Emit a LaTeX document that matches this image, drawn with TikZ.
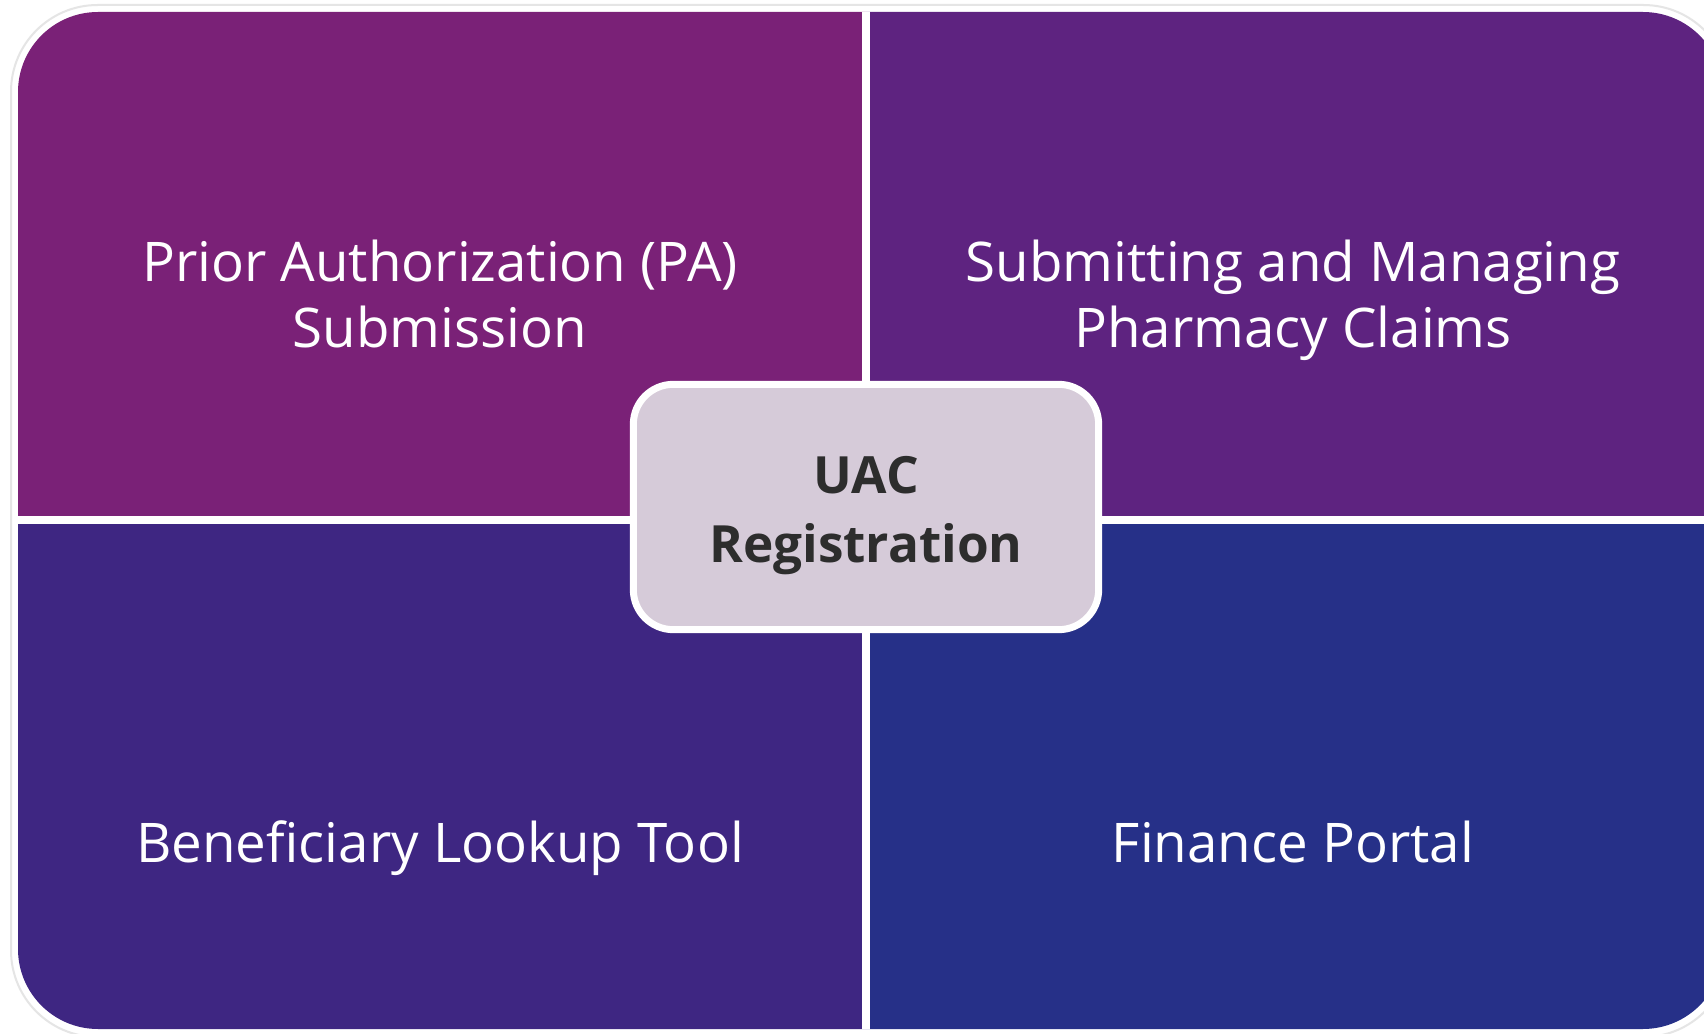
\documentclass[tikz,border=0pt]{standalone}
\usepackage{fontspec}
\setmainfont{Open Sans}
\usetikzlibrary{positioning}

\definecolor{paColor}{RGB}{122,33,119}
\definecolor{claimsColor}{RGB}{94,35,128}
\definecolor{lookupColor}{RGB}{62,38,130}
\definecolor{financeColor}{RGB}{38,48,136}
\definecolor{hubColor}{RGB}{214,203,217}
\definecolor{hubText}{RGB}{45,45,45}

\begin{document}
\begin{tikzpicture}[x=0.75pt,y=0.75pt,yscale=-1,xscale=1,
	quad/.style={text=white,align=center,font=\fontsize{41}{49.5}\selectfont},
	hub/.style={fill=hubColor,draw=white,line width=5.25pt,rounded corners=30pt,
		minimum width=349pt,minimum height=184pt,align=center,text=hubText,
		font=\fontsize{38.5}{51.75}\selectfont\bfseries},
	divider/.style={white,line width=6.5pt}]
			\useasboundingbox (0,0) rectangle (1704,1034);
			\fill[white] (0,0) rectangle (1704,1034);
			\draw[black!10,line width=1.5pt,rounded corners=65pt] (11,5) rectangle (1730,1037);
			
			% four quadrants, clipped by the outer rounded frame
			\begin{scope}
			\clip[rounded corners=60pt] (18,12) rectangle (1723,1029);
			\fill[paColor] (0,0) rectangle (866,520);
			\fill[claimsColor] (866,0) rectangle (1730,520);
			\fill[lookupColor] (0,520) rectangle (866,1040);
			\fill[financeColor] (866,520) rectangle (1730,1040);
			\draw[divider] (866,0) -- (866,1040);
			\draw[divider] (0,520) -- (1730,520);
			\end{scope}
			
			\node[quad] (pa) at (440,294) {Prior Authorization (PA)\\Submission};
			\node[quad] (claims) at (1293,300) {Submitting and Managing\\Pharmacy Claims};
			\node[quad,anchor=base] (lookup) at (440,862) {Beneficiary Lookup Tool};
			\node[quad,anchor=base] (finance) at (1293,862) {Finance Portal};
			
			\node[hub] (uac) at (866,507) {\rule{0pt}{40pt}UAC\\Registration};
\end{tikzpicture}
\end{document}
